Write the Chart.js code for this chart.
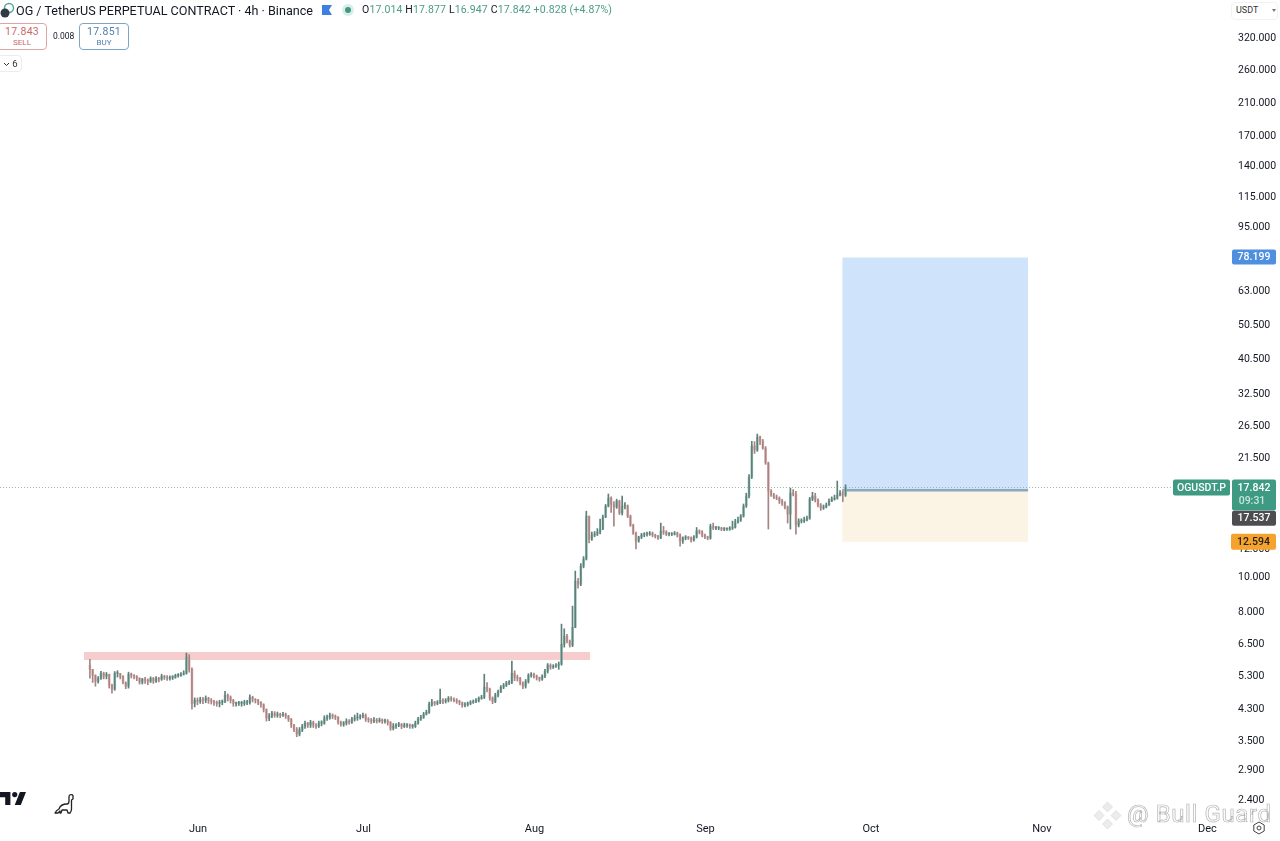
<!DOCTYPE html>
<html>
<head>
<meta charset="utf-8">
<title>OGUSDT.P 4h</title>
<script src="https://cdn.jsdelivr.net/npm/chart.js@4/dist/chart.umd.js"></script>
<style>
    html, body { margin: 0; padding: 0; background: #fff; overflow: hidden; }
    #wrap { position: relative; width: 1280px; height: 841px; font-family: Roboto, "Open Sans", sans-serif; color: #131722; }
    #wrap canvas { position: absolute; left: 0; top: 0; }
    .abs { position: absolute; white-space: nowrap; }
    .box { position: absolute; box-sizing: border-box; text-align: center; border-radius: 4px; background: #fff; border: 1px solid; }
    .box b { display: block; font-weight: 400; font-size: 10.5px; line-height: 12px; margin-top: 2px; letter-spacing: 0.3px; }
    .box span { display: block; font-size: 8px; line-height: 10px; }
    .green { color: #4c9c86; }
    #mark { font-size: 24px; color: #fff; -webkit-text-stroke: 0.7px #b4b4b4; letter-spacing: 0.6px; }
</style>
</head>
<body>
<div id="wrap">
    <canvas id="chart" width="1280" height="841"></canvas>

    <!-- Legend row -->
    <svg class="abs" style="left:0;top:2px" width="15" height="16" viewBox="0 0 15 16">
        <circle cx="9" cy="6" r="4.5" fill="none" stroke="#4fa79a" stroke-width="1.4"/>
        <circle cx="5" cy="11" r="4.5" fill="#2f3a44"/>
    </svg>
    <div class="abs" style="left:16px;top:2px;font-size:12.6px;line-height:17px">OG / TetherUS PERPETUAL CONTRACT · 4h · Binance</div>
    <svg class="abs" style="left:321px;top:4px" width="12" height="12" viewBox="0 0 12 12">
        <path d="M1 1h10L8 6l3 5H1z" fill="#3f7fe0"/>
    </svg>
    <svg class="abs" style="left:342px;top:4px" width="12" height="12" viewBox="0 0 12 12">
        <circle cx="6" cy="6" r="6" fill="#d9eee8"/>
        <circle cx="6" cy="6" r="3" fill="#3f9a83"/>
    </svg>
    <div class="abs" style="left:362px;top:3px;font-size:10.5px;line-height:14px;letter-spacing:0.15px">
        O<span class="green">17.014</span> H<span class="green">17.877</span> L<span class="green">16.947</span> C<span class="green">17.842</span> <span class="green">+0.828 (+4.87%)</span>
    </div>

    <!-- Sell and buy buttons -->
    <div class="box" style="left:-3px;top:23px;width:50px;height:27px;border-color:#dfa5a5;color:#c96a6a">
        <b>17.843</b><span>SELL</span>
    </div>
    <div class="abs" style="left:53px;top:31px;font-size:8.5px;line-height:11px">0.008</div>
    <div class="box" style="left:79px;top:23px;width:50px;height:27px;border-color:#7fa5c5;color:#4f7fb0">
        <b>17.851</b><span>BUY</span>
    </div>
    <div class="box" style="left:-3px;top:55px;width:25px;height:17px;border-color:#ececec;font-size:9.5px;line-height:15px;color:#333">
        <svg width="7" height="5" viewBox="0 0 7 5" style="margin-right:2px;margin-left:2px"><path d="M1 1l2.5 2.5L6 1" fill="none" stroke="#333"/></svg>6
    </div>

    <!-- Currency selector -->
    <div class="box" style="left:1231px;top:2px;width:47px;height:18px;border-color:#f2f2f2"></div>
    <div class="abs" style="left:1236px;top:4px;font-size:9px;line-height:13px;color:#333">USDT</div>
    <div class="abs" style="left:1272px;top:9px;width:0;height:0;border-left:2.5px solid transparent;border-right:2.5px solid transparent;border-top:3px solid #777"></div>

    <!-- Logo and dino -->
    <svg class="abs" style="left:0;top:791px" width="26" height="15" viewBox="2 6 30 15">
        <path d="M14 6H2v6h6v9h6V6Zm12 15h-7l6-15h7l-6 15Zm-7-9a3 3 0 1 0 0-6 3 3 0 0 0 0 6Z" fill="#131722"/>
    </svg>
    <svg class="abs" style="left:52px;top:792px" width="24" height="24" viewBox="0 0 24 24">
        <path d="M3 21c1-2 2-3 4-4 1-3 4-5 8-5 1.500 0 2-1 2-3V4.500c0-2.500 4-2.500 4-.5v3l-1.500 1v9c0 2-.5 3-1.500 4h-2l-1-3h-5l-1 3H8v-2l-2 2z" fill="#fff" stroke="#222" stroke-width="1.3" stroke-linejoin="round"/>
    </svg>

    <!-- Watermark and gear -->
    <svg class="abs" style="left:1093px;top:801px" width="29" height="29" viewBox="0 0 29 29">
        <path d="M14.500 1l5 5-5 5-5-5zM6 9.500l5 5-5 5-5-5zM23 9.500l5 5-5 5-5-5zM14.500 18l5 5-5 5-5-5z" fill="#ececec" stroke="#d4d4d4" stroke-width="0.6"/>
    </svg>
    <div class="abs" id="mark" style="left:1127px;top:797px;line-height:34px">@ Bull Guard</div>
    <svg class="abs" style="left:1252px;top:821px" width="14" height="14" viewBox="0 0 14 14">
        <path d="M7 1l5.200 3v6L7 13l-5.200-3V4z" fill="none" stroke="#444" stroke-width="1"/>
        <circle cx="7" cy="7" r="2" fill="none" stroke="#444" stroke-width="1"/>
    </svg>
</div>

<script>
// Price axis
const yMin = 2.178;
const yMax = 408.4;
const yTicks = [320, 260, 210, 170, 140, 115, 95, 63, 50.5, 40.5, 32.5, 26.5, 21.5, 12, 10, 8, 6.5, 5.3, 4.3, 3.5, 2.9, 2.4];

// Time axis, in days counted from 1 June
const xMin = -35.9;
const xMax = 187.1;
const monthDays = [0, 30, 61, 92, 122, 153, 183];
const monthLabels = ['Jun', 'Jul', 'Aug', 'Sep', 'Oct', 'Nov', 'Dec'];

// Candles, one every half day
const firstDay = -19.6;
const candleStep = 0.5;
const firstOpen = 5.70;

const closes = [
    5.55, 5.34, 5.14, 5.24, 5.41, 5.31, 5.38, 5.01, 4.89, 5.41,
    5.41, 5.31, 5.11, 4.98, 5.38, 5.34, 5.31, 5.24, 5.11, 5.21,
    5.17, 5.14, 5.24, 5.14, 5.24, 5.21, 5.31, 5.27, 5.24, 5.27,
    5.27, 5.34, 5.34, 5.38, 5.41, 6.00, 5.55, 4.46, 4.55, 4.52,
    4.58, 4.55, 4.61, 4.55, 4.52, 4.49, 4.46, 4.49, 4.52, 4.70,
    4.64, 4.55, 4.46, 4.46, 4.46, 4.46, 4.49, 4.49, 4.64, 4.58,
    4.55, 4.49, 4.43, 4.30, 4.06, 4.11, 4.19, 4.13, 4.16, 4.13,
    4.16, 4.11, 4.03, 3.88, 3.78, 3.66, 3.76, 3.85, 3.93, 3.88,
    3.95, 3.88, 3.85, 3.93, 3.93, 4.06, 4.08, 4.13, 4.11, 4.08,
    3.95, 3.90, 3.93, 3.98, 3.95, 4.03, 4.06, 4.08, 4.11, 4.13,
    4.03, 4.01, 3.98, 4.01, 3.98, 4.01, 3.98, 3.98, 3.95, 3.80,
    3.85, 3.88, 3.90, 3.85, 3.88, 3.88, 3.85, 3.85, 3.93, 4.03,
    4.08, 4.16, 4.21, 4.43, 4.49, 4.46, 4.49, 4.55, 4.52, 4.55,
    4.61, 4.58, 4.55, 4.52, 4.49, 4.41, 4.43, 4.46, 4.49, 4.52,
    4.55, 4.61, 4.64, 4.95, 4.89, 4.61, 4.52, 4.70, 4.82, 4.95,
    5.01, 5.08, 5.11, 5.41, 5.27, 5.24, 5.08, 4.98, 5.14, 5.34,
    5.38, 5.31, 5.27, 5.21, 5.31, 5.48, 5.70, 5.63, 5.66, 5.70,
    5.74, 6.52, 6.87, 6.65, 6.48, 7.27, 9.78, 9.59, 10.78, 11.27,
    14.85, 12.82, 13.15, 13.23, 13.40, 13.66, 14.76, 15.84, 16.67, 16.04,
    15.74, 16.35, 15.14, 15.84, 15.84, 14.85, 14.01, 13.32, 12.65, 12.98,
    13.15, 13.23, 13.23, 13.32, 13.15, 13.06, 12.90, 13.49, 13.40, 13.23,
    13.23, 13.23, 13.32, 13.15, 12.65, 12.90, 12.98, 12.90, 12.73, 12.98,
    13.49, 13.40, 13.15, 12.98, 12.90, 13.92, 13.75, 13.75, 13.75, 13.66,
    13.66, 13.66, 13.75, 13.83, 14.29, 14.47, 14.85, 15.84, 16.89, 19.08,
    23.30, 22.70, 24.67, 24.05, 23.00, 20.88, 17.44, 17.00, 16.78, 16.67,
    16.35, 16.14, 15.74, 15.04, 17.22, 17.11, 14.01, 14.38, 14.38, 14.47,
    14.66, 16.56, 16.89, 16.46, 15.94, 15.64, 15.74, 15.94, 16.35, 16.56,
    16.67, 17.00, 17.22, 17.00, 17.842
];

const highs = [
    5.92, 5.55, 5.36, 5.30, 5.48, 5.45, 5.44, 5.38, 5.05, 5.47,
    5.50, 5.41, 5.33, 5.12, 5.45, 5.42, 5.37, 5.33, 5.26, 5.24,
    5.27, 5.22, 5.29, 5.27, 5.30, 5.27, 5.38, 5.34, 5.33, 5.32,
    5.33, 5.38, 5.40, 5.44, 5.50, 6.16, 6.10, 5.60, 4.62, 4.62,
    4.64, 4.64, 4.68, 4.64, 4.60, 4.55, 4.53, 4.55, 4.56, 4.82,
    4.74, 4.68, 4.58, 4.50, 4.52, 4.52, 4.55, 4.55, 4.71, 4.67,
    4.60, 4.58, 4.51, 4.45, 4.30, 4.18, 4.24, 4.23, 4.22, 4.19,
    4.21, 4.19, 4.13, 4.05, 3.90, 3.82, 3.82, 3.90, 3.98, 3.95,
    4.00, 3.98, 3.92, 3.98, 3.99, 4.12, 4.14, 4.19, 4.17, 4.14,
    4.10, 3.98, 3.97, 4.04, 4.02, 4.08, 4.14, 4.19, 4.15, 4.19,
    4.17, 4.07, 4.05, 4.07, 4.05, 4.06, 4.04, 4.03, 4.02, 3.97,
    3.92, 3.92, 3.95, 3.92, 3.93, 3.92, 3.91, 3.90, 3.98, 4.08,
    4.13, 4.21, 4.27, 4.50, 4.58, 4.52, 4.54, 4.89, 4.60, 4.60,
    4.66, 4.66, 4.62, 4.60, 4.55, 4.50, 4.48, 4.50, 4.54, 4.56,
    4.60, 4.65, 4.70, 5.38, 5.10, 4.92, 4.65, 4.76, 4.86, 5.00,
    5.07, 5.14, 5.16, 5.85, 5.50, 5.35, 5.27, 5.12, 5.20, 5.40,
    5.44, 5.42, 5.35, 5.28, 5.36, 5.55, 5.76, 5.75, 5.72, 5.76,
    5.82, 7.42, 7.20, 6.95, 6.70, 8.33, 10.43, 9.95, 10.95, 11.45,
    15.33, 14.85, 13.40, 13.45, 13.70, 14.57, 14.95, 16.00, 17.11, 16.80,
    16.30, 16.55, 16.45, 16.89, 16.20, 15.95, 14.95, 14.10, 13.40, 13.05,
    13.30, 13.35, 13.40, 13.45, 13.40, 13.22, 13.12, 14.20, 13.90, 13.52,
    13.35, 13.35, 13.45, 13.40, 13.25, 13.00, 13.10, 13.03, 13.00, 13.10,
    13.80, 13.60, 13.52, 13.22, 13.05, 14.10, 14.20, 13.90, 13.88, 13.82,
    13.80, 13.78, 13.88, 14.38, 14.55, 14.75, 15.00, 16.05, 17.20, 19.40,
    24.00, 23.95, 25.15, 24.83, 24.30, 23.20, 21.00, 17.60, 17.20, 17.00,
    16.80, 16.55, 16.30, 15.85, 17.78, 17.60, 17.40, 14.60, 14.60, 14.75,
    14.85, 16.75, 17.30, 17.20, 16.60, 16.10, 15.95, 16.15, 16.60, 16.80,
    17.00, 18.60, 17.50, 17.40, 18.15
];

const lows = [
    5.24, 5.10, 4.98, 5.08, 5.20, 5.22, 5.22, 4.92, 4.76, 4.85,
    5.28, 5.22, 5.05, 4.90, 4.92, 5.25, 5.22, 5.16, 5.05, 5.05,
    5.07, 5.03, 5.10, 5.07, 5.10, 5.12, 5.17, 5.20, 5.17, 5.18,
    5.20, 5.24, 5.28, 5.30, 5.35, 5.38, 5.45, 4.30, 4.36, 4.42,
    4.46, 4.45, 4.48, 4.46, 4.44, 4.40, 4.38, 4.36, 4.42, 4.48,
    4.53, 4.47, 4.38, 4.38, 4.40, 4.38, 4.40, 4.42, 4.44, 4.50,
    4.47, 4.42, 4.35, 4.22, 3.98, 3.99, 4.07, 4.08, 4.08, 4.07,
    4.10, 4.05, 3.97, 3.82, 3.72, 3.60, 3.62, 3.72, 3.80, 3.82,
    3.82, 3.82, 3.80, 3.82, 3.86, 3.90, 4.00, 4.03, 4.04, 4.02,
    3.90, 3.85, 3.85, 3.88, 3.90, 3.92, 3.98, 4.00, 4.03, 4.06,
    3.97, 3.95, 3.92, 3.94, 3.93, 3.95, 3.92, 3.93, 3.88, 3.75,
    3.76, 3.80, 3.84, 3.79, 3.82, 3.82, 3.80, 3.80, 3.82, 3.90,
    4.00, 4.05, 4.14, 4.18, 4.38, 4.40, 4.42, 4.45, 4.45, 4.47,
    4.50, 4.52, 4.50, 4.46, 4.42, 4.35, 4.36, 4.38, 4.42, 4.46,
    4.48, 4.50, 4.58, 4.60, 4.80, 4.55, 4.45, 4.48, 4.65, 4.78,
    4.90, 4.97, 5.03, 5.06, 5.16, 5.15, 5.02, 4.90, 4.92, 5.08,
    5.28, 5.24, 5.18, 5.14, 5.17, 5.26, 5.42, 5.55, 5.58, 5.62,
    5.55, 5.70, 6.40, 6.58, 6.40, 6.42, 7.25, 9.35, 9.50, 10.65,
    11.20, 12.50, 12.70, 13.00, 13.10, 13.25, 13.60, 14.70, 15.75, 15.20,
    13.92, 15.60, 15.00, 14.95, 15.55, 14.70, 13.90, 13.20, 12.02, 12.55,
    12.85, 13.00, 13.05, 13.12, 13.00, 12.90, 12.78, 12.85, 13.20, 13.10,
    13.08, 13.10, 13.15, 12.98, 12.25, 12.45, 12.75, 12.78, 12.55, 12.65,
    12.90, 13.25, 13.00, 12.85, 12.75, 12.80, 13.62, 13.60, 13.60, 13.52,
    13.52, 13.55, 13.55, 13.62, 13.75, 14.20, 14.35, 14.75, 15.70, 16.70,
    18.90, 22.20, 22.50, 23.50, 22.80, 20.70, 13.66, 16.85, 16.60, 16.50,
    16.10, 15.90, 15.55, 14.20, 13.66, 16.90, 13.23, 13.85, 14.20, 14.25,
    14.40, 14.55, 16.40, 16.25, 15.75, 15.40, 15.50, 15.65, 15.90, 16.30,
    16.45, 16.55, 16.90, 16.30, 16.85
];

// Long position drawing
const positionDays = [116.8, 150.5];
const targetPrice = 78.199;
const entryPrice = 17.537;
const stopPrice = 12.594;

// Resistance band on the left
const bandDays = [-20.7, 71.1];
const bandTop = 6.20;
const bandBottom = 5.89;

// Last price
const lastPrice = 17.842;

const upColor = '#9accc2';
const downColor = '#eeb9b9';
const upWick = '#5f7f79';
const downWick = '#a58583';

const opens = closes.map((close, i) => (i === 0 ? firstOpen : closes[i - 1]));
const candleDays = closes.map((close, i) => firstDay + i * candleStep);
const isUp = closes.map((close, i) => close >= opens[i]);

// Flat two point line between two days, optionally filled to another price
function levelDataset(days, price, fillTo, color, order) {
    return {
        type: 'line',
        data: days.map(day => ({ x: day, y: price })),
        pointRadius: 0,
        borderWidth: 0,
        backgroundColor: color,
        fill: { value: fillTo },
        order: order
    };
}

// Price tags on the right of the plot
function drawTag(ctx, left, top, width, height, color, text, textColor) {
    ctx.fillStyle = color;
    ctx.beginPath();
    ctx.roundRect(left, top, width, height, 2);
    ctx.fill();
    ctx.fillStyle = textColor;
    ctx.font = '500 10.5px Roboto';
    ctx.textAlign = 'center';
    ctx.textBaseline = 'middle';
    ctx.fillText(text, left + width / 2, top + height / 2 + 0.5);
}

const priceTags = {
    id: 'priceTags',
    afterDraw(chart) {
        const ctx = chart.ctx;
        const y = chart.scales.y;
        ctx.save();

        const targetY = y.getPixelForValue(targetPrice);
        drawTag(ctx, 1232, targetY - 8, 44, 15, '#4f8fe0', targetPrice.toFixed(3), '#fff');

        const lastY = y.getPixelForValue(lastPrice);
        drawTag(ctx, 1173, lastY - 8, 57, 16, '#3f9a83', 'OGUSDT.P', '#fff');
        drawTag(ctx, 1232, lastY - 8, 44, 31, '#3f9a83', '', '#fff');
        ctx.fillStyle = '#fff';
        ctx.fillText(lastPrice.toFixed(3), 1254, lastY + 0.5);
        ctx.fillStyle = '#c5e6dc';
        ctx.fillText('09:31', 1252, lastY + 13.5);

        const entryY = y.getPixelForValue(entryPrice);
        drawTag(ctx, 1232, entryY + 28 - 7.5, 44, 15, '#4d4d4f', entryPrice.toFixed(3), '#fff');

        const stopY = y.getPixelForValue(stopPrice);
        drawTag(ctx, 1231, stopY - 8, 45, 16, '#f5a32c', stopPrice.toFixed(3), '#222');

        ctx.restore();
    }
};

new Chart(document.getElementById('chart'), {
    type: 'bar',
    data: {
        datasets: [
            {
                // Wicks
                data: closes.map((close, i) => ({ x: candleDays[i], y: [lows[i], highs[i]] })),
                backgroundColor: isUp.map(up => (up ? upWick : downWick)),
                grouped: false,
                barThickness: 1,
                barPercentage: 1,
                order: 1
            },
            {
                // Bodies
                data: closes.map((close, i) => ({ x: candleDays[i], y: [opens[i], close] })),
                backgroundColor: isUp.map(up => (up ? upColor : downColor)),
                grouped: false,
                barThickness: 2,
                barPercentage: 1,
                minBarLength: 1,
                order: 2
            },
            levelDataset(positionDays, targetPrice, entryPrice, '#cfe3fa', 6),
            levelDataset(positionDays, entryPrice, stopPrice, '#fbf3e3', 6),
            levelDataset(bandDays, bandTop, bandBottom, '#f6cccd', 5),
            {
                // Entry line
                type: 'line',
                data: positionDays.map(day => ({ x: day, y: entryPrice })),
                pointRadius: 0,
                borderWidth: 2.5,
                borderColor: '#8ba8c0',
                order: 4
            },
            {
                // Last price line
                type: 'line',
                data: [xMin, xMax].map(day => ({ x: day, y: lastPrice })),
                pointRadius: 0,
                borderWidth: 1,
                borderColor: '#9db5ad',
                borderDash: [1, 2],
                order: 3
            }
        ]
    },
    options: {
        responsive: false,
        animation: false,
        events: [],
        layout: { padding: 0 },
        plugins: {
            legend: { display: false },
            tooltip: { enabled: false }
        },
        scales: {
            x: {
                type: 'linear',
                min: xMin,
                max: xMax,
                offset: false,
                grid: { display: false, drawTicks: false },
                border: { display: false },
                afterBuildTicks(axis) {
                    axis.ticks = monthDays.map(day => ({ value: day }));
                },
                afterFit(axis) {
                    axis.height = 26;
                    axis.paddingLeft = 0;
                    axis.paddingRight = 0;
                },
                ticks: {
                    autoSkip: false,
                    maxRotation: 0,
                    padding: 8,
                    color: '#131722',
                    font: { family: 'Roboto', size: 11 },
                    callback: value => monthLabels[monthDays.indexOf(value)]
                }
            },
            y: {
                type: 'logarithmic',
                position: 'right',
                min: yMin,
                max: yMax,
                bounds: 'data',
                grid: { display: false, drawTicks: false },
                border: { display: false },
                afterBuildTicks(axis) {
                    axis.ticks = yTicks.map(value => ({ value: value }));
                },
                afterFit(axis) {
                    axis.width = 50;
                    axis.paddingTop = 0;
                    axis.paddingBottom = 0;
                },
                ticks: {
                    autoSkip: false,
                    padding: 8,
                    color: '#131722',
                    font: { family: 'Roboto', size: 10.5 },
                    callback: value => value.toFixed(3)
                }
            }
        }
    },
    plugins: [priceTags]
});
</script>
</body>
</html>
